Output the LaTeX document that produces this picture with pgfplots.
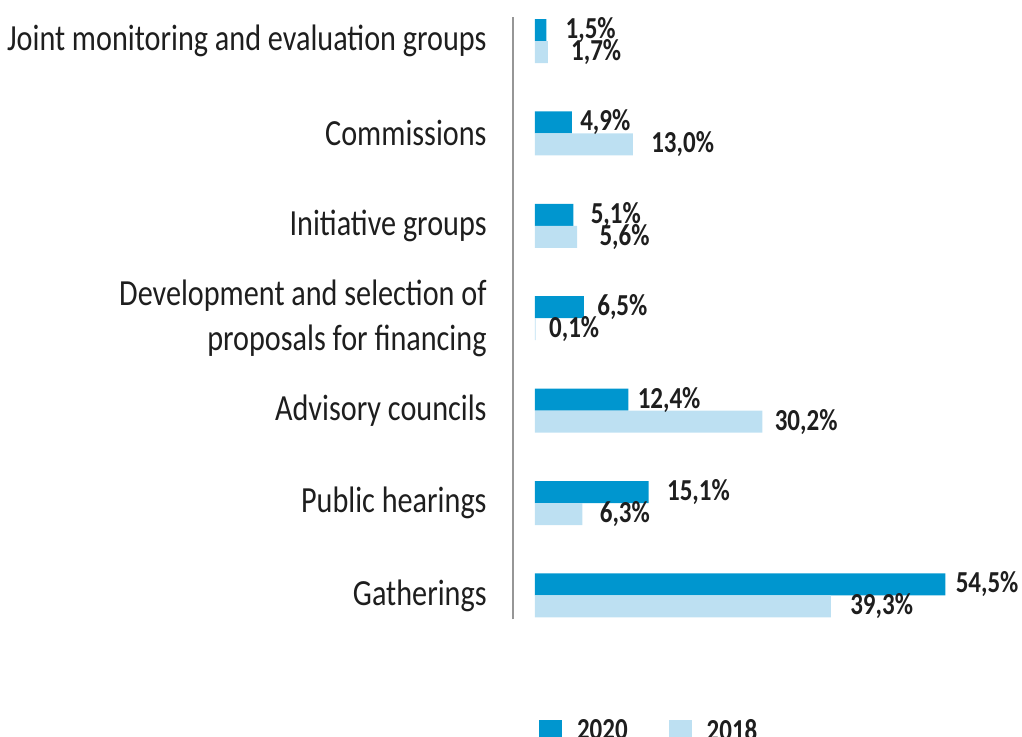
\documentclass[border=0pt]{standalone}
\usepackage{pgfplots}
\pgfplotsset{compat=1.18}
\usepackage{pgfplotstable}
\usepackage{fontspec}
\setmainfont{Carlito}
\definecolor{dark}{RGB}{0,150,207}
\definecolor{light}{RGB}{189,224,242}
\definecolor{axisgray}{RGB}{150,150,150}
\definecolor{txt}{RGB}{30,30,30}

\pgfplotstableread{
y v off
6 1.5 9.5
5 4.9 4
4 5.1 8.5
3 6.5 6.5
2 12.4 4.5
1 15.1 9
0 54.5 5
}\tdark
\pgfplotstableread{
y v off
6 1.7 11.5
5 13.0 9
4 5.6 11
3 0.1 6.5
2 30.2 6
1 6.3 8.5
0 39.3 9.5
}\tlight

\begin{document}
\begin{tikzpicture}
\useasboundingbox (0,0) rectangle (511pt,-368.5pt);
\begin{axis}[
  at={(256.5pt,-8.5pt)}, anchor=north west,
  scale only axis, x=3.765pt, y=46.2pt,
  xmin=-2.92, xmax=60, ymin=-0.26, ymax=6.26,
  clip=false,
  axis x line=none, axis y line*=left,
  y axis line style={-, draw=axisgray, line width=0.8pt},
  xtick=\empty,
  ytick={0,1,2,3,4,5,6},
  yticklabels={Gatherings,Public hearings,Advisory councils,{Development and selection of\\proposals for financing},Initiative groups,Commissions,Joint monitoring and evaluation groups},
  major tick length=0pt,
  yticklabel style={align=right, inner sep=0pt, xshift=-13pt, yscale=1.22, text=txt,
    font=\fontsize{15.1}{18.6}\selectfont},
  point meta=x,
  nodes near coords={\pgfmathprintnumber[fixed,fixed zerofill,precision=1,use comma,assume math mode=true]{\pgfplotspointmeta}\%},
  visualization depends on={\thisrow{off} \as \labeloff},
  legend columns=2,
  legend style={draw=none, fill=none, inner sep=0pt, outer sep=0pt,
    at={(axis description cs:0.0549,-0.166)}, anchor=north west,
    nodes={inner sep=0pt, yscale=1.22, text=txt, font=\bfseries\fontsize{12.5}{15}\selectfont},
    /tikz/every even column/.append style={column sep=20.5pt}},
  legend cell align=left,
  legend image code/.code={\fill[#1,draw=none] (0pt,-5.75pt) rectangle (11.5pt,5.75pt); \path (19pt,0pt);},
]
\addplot[xbar, bar width=0.238, bar shift=0.119, fill=dark, draw=none,
  nodes near coords style={anchor=west, inner sep=0pt, xshift=\labeloff pt, yshift=5.5pt, yscale=1.22, text=txt,
    font=\bfseries\fontsize{12.5}{15}\selectfont}] table[x=v,y=y] {\tdark};
\addlegendentry{2020}
\addplot[xbar, bar width=0.238, bar shift=-0.119, fill=light, draw=none,
  nodes near coords style={anchor=west, inner sep=0pt, xshift=\labeloff pt, yshift=-5.5pt, yscale=1.22, text=txt,
    font=\bfseries\fontsize{12.5}{15}\selectfont}] table[x=v,y=y] {\tlight};
\addlegendentry{2018}
\end{axis}
\end{tikzpicture}
\end{document}
